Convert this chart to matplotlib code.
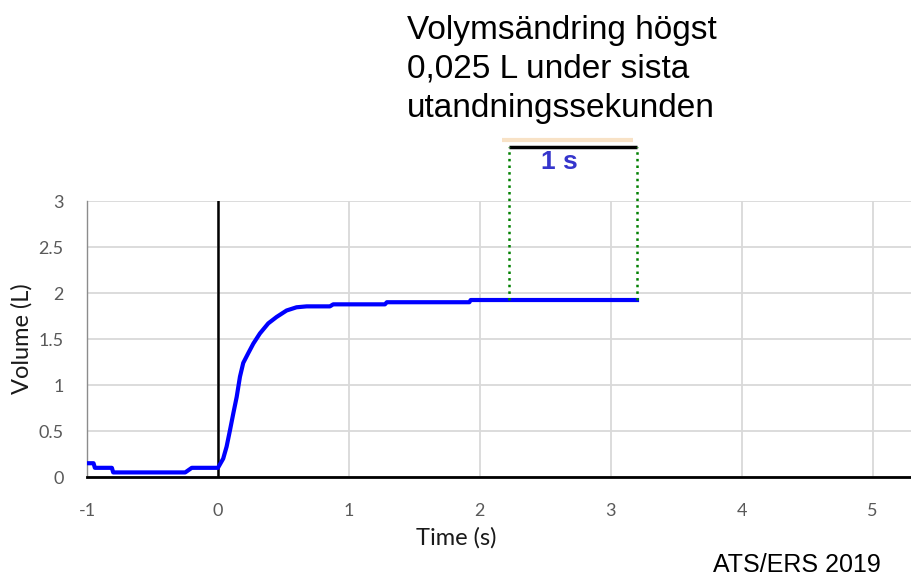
import matplotlib
matplotlib.use("Agg")
from matplotlib import pyplot as plt

plt.rcParams["axes.unicode_minus"] = False

# volume-time curve
time_s = [-1.0, -0.95, -0.94, -0.81, -0.80, -0.25, -0.22, -0.20, 0.0,
          0.04, 0.066, 0.092, 0.117, 0.143, 0.168, 0.193, 0.231, 0.27,
          0.32, 0.384, 0.448, 0.524, 0.60, 0.677, 0.855, 0.88, 1.275,
          1.29, 1.92, 1.93, 3.2]
volume_l = [0.15, 0.15, 0.10, 0.10, 0.05, 0.05, 0.08, 0.10, 0.10,
            0.20, 0.33, 0.51, 0.69, 0.87, 1.09, 1.24, 1.345, 1.45,
            1.56, 1.67, 1.74, 1.81, 1.845, 1.855, 1.855, 1.877, 1.877,
            1.90, 1.90, 1.924, 1.924]

x_ticks = [-1, 0, 1, 2, 3, 4, 5]
y_ticks = [0, 0.5, 1, 1.5, 2, 2.5, 3]
y_tick_labels = ["0", "0.5", "1", "1.5", "2", "2.5", "3"]

# last-second window
win_start, win_end = 2.22, 3.2
win_level = 1.924
bar_level = 3.587
tan_start, tan_end, tan_level = 2.17, 3.17, 3.665

fig = plt.figure(figsize=(9.12, 5.78), dpi=100)
ax = fig.add_axes([0.0954, 0.1747, 0.9046, 0.4775])

ax.set_xlim(-1, 5.3)
ax.set_ylim(0, 3)
ax.set_xticks(x_ticks)
ax.set_yticks(y_ticks)
ax.set_yticklabels(y_tick_labels)
ax.grid(True, color="#d9d9d9", linewidth=1.3)
ax.set_axisbelow(True)
ax.tick_params(length=0, labelsize=13, labelcolor="#595959")
ax.tick_params(axis="x", pad=19)
ax.tick_params(axis="y", pad=17)
for lab in ax.get_xticklabels() + ax.get_yticklabels():
    lab.set_family("Lato")

for s in ["top", "right"]:
    ax.spines[s].set_visible(False)
ax.spines["left"].set_color("#8c8c8c")
ax.spines["left"].set_linewidth(1.0)
ax.spines["bottom"].set_color("black")
ax.spines["bottom"].set_linewidth(2.0)

ax.axvline(0, color="black", linewidth=1.8, zorder=2)
ax.plot(time_s, volume_l, color="#0000ff", linewidth=3.0, zorder=3)

# annotation of the last second
for xv in [win_start, win_end]:
    ax.plot([xv, xv], [win_level, bar_level], color="#008000",
            linestyle=":", linewidth=1.8, clip_on=False, zorder=4)
ax.plot([win_start, win_end], [bar_level, bar_level], color="black",
        linewidth=2.5, clip_on=False, solid_capstyle="butt")
ax.plot([tan_start, tan_end], [tan_level, tan_level], color="#f8e2c6",
        linewidth=3, clip_on=False, solid_capstyle="butt")
ax.text(2.61, 3.42, "1 s", color="#3535cc",
        fontsize=19, fontweight="bold", family="Liberation Sans",
        ha="center", va="center", clip_on=False)

ax.set_xlabel("Time (s)", family="Lato", fontsize=17, color="#1a1a1a")
ax.xaxis.set_label_coords(0.447, -0.18)
ax.set_ylabel("Volume (L)", family="Lato", fontsize=17, color="#1a1a1a")
ax.yaxis.set_label_coords(-0.066, 0.5)

fig.text(407 / 912, 1 - 15 / 578,
         "Volymsändring högst\n0,025 L under sista\nutandningssekunden",
         family="Liberation Sans", fontsize=24, ha="left", va="top",
         linespacing=1.33)
fig.text(713 / 912, 1 - 577 / 578, "ATS/ERS 2019", family="Liberation Sans",
         fontsize=18, ha="left", va="bottom")

fig.savefig("out.png", dpi=100)
